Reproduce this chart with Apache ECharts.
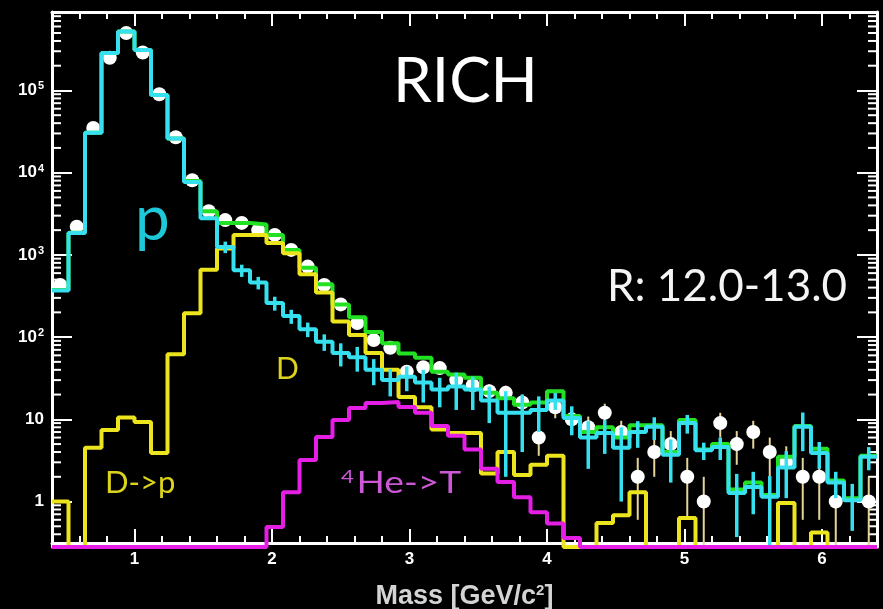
<!DOCTYPE html>
<html>
<head>
<meta charset="utf-8">
<script src="https://cdn.jsdelivr.net/npm/echarts@6/dist/echarts.min.js"></script>
<style>
  html, body { margin: 0; padding: 0; background: #000; }
  #chart { width: 883px; height: 609px; }
</style>
</head>
<body>
<div id="chart"></div>
<script>
// Mass histogram binning: 50 bins of 0.12 GeV/c^2 starting at 0.4
const BIN_START = 0.4;
const BIN_WIDTH = 0.12;

// Observed counts (white points) and their errors
const dataCounts = [
  430, 2200, 35000, 250000, 500000, 290000, 90000, 27000, 8100, 3400,
  2650, 2450, 2000, 1750, 1150, 720, 430, 250, 148, 92,
  74, 38, 43, 42, 30, 26, 22, 21, 16, 6,
  14, 10, 8, 12, 7, 2, 4, 5, 2, 1,
  9, 5, 7, 4, 3, 2, 2, 1, 0, 1
];
const dataErr = [
  0, 0, 0, 0, 0, 0, 0, 0, 0, 0,
  0, 0, 0, 0, 0, 0, 0, 16, 12, 10,
  9, 6, 6.5, 6.5, 5.5, 5, 4.7, 4.6, 4, 2.4,
  3.7, 3.2, 2.8, 3.5, 2.6, 1.4, 2, 2.2, 1.4, 1,
  3, 2.2, 2.6, 2, 1.7, 1.4, 1.4, 1, 0, 1
];

// Proton template (cyan) with its statistical errors
const protonMC = [
  370, 1850, 30500, 286000, 520000, 310000, 88000, 26000, 7700, 2800,
  1250, 650, 460, 260, 180, 125, 88, 64, 57, 40,
  30, 33, 28, 23, 25, 23, 17, 12, 12, 13,
  17, 10.4, 6, 6.8, 4.5, 7, 8.1, 3.7, 9, 4.2,
  4.6, 1.27, 1.5, 1.14, 2.6, 8.1, 3.9, 1.7, 1.04, 3.5
];
const protonErr = [
  0, 0, 0, 0, 0, 0, 0, 0, 0, 150,
  200, 110, 80, 50, 35, 25, 20, 20, 19, 14,
  11, 11, 12, 9, 12, 10, 8, 10, 8, 6,
  4, 4, 3.5, 3, 3.5, 2.5, 2.5, 2, 2.3, 1,
  1.4, 0.9, 0.8, 0.9, 1.5, 4, 1.4, 0.6, 0.6, 1.1
];

// Deuteron template (yellow), including the D->p tail at low mass
const deuteronMC = [
  1, 0, 4.5, 7.4, 10.5, 9.3, 3.9, 62, 195, 660,
  1200, 1750, 1750, 1400, 1050, 580, 350, 155, 106, 64,
  40, 18.7, 14, 7.5, 6.8, 6.8, 2.2, 4, 2.1, 2.8,
  3.6, 0, 0, 0.55, 0.68, 1.3, 0, 0, 0.63, 0,
  0, 0, 0, 0, 0.96, 0, 0.42, 0, 0, 0
];

// 4He -> T template (magenta)
const heliumToTriton = [
  0, 0, 0, 0, 0, 0, 0, 0, 0, 0,
  0, 0, 0, 0.49, 1.3, 3.2, 6.1, 9.8, 13.7, 15.8,
  16.3, 14.1, 12, 8.3, 6.3, 4.3, 2.5, 1.73, 1.13, 0.74,
  0.54, 0.36, 0, 0, 0, 0, 0, 0, 0, 0,
  0, 0, 0, 0, 0, 0, 0, 0, 0, 0
];

// Total fit (green)
const totalFit = [
  375, 1860, 30500, 286000, 520000, 310000, 88000, 26000, 7900, 3400,
  2450, 2450, 2350, 1750, 1150, 700, 440, 250, 175, 115,
  84, 63, 56, 38, 35, 32, 21, 18, 15, 16,
  22, 11, 7, 8, 6, 8.5, 8.5, 4, 9.8, 4.3,
  5, 1.4, 1.7, 1.2, 3.5, 8.3, 4.4, 1.8, 1.1, 3.6
];

const X_MIN = 0.4, X_MAX = 6.4;
const Y_MIN = 0.28, Y_MAX = 9e5;

const nBins = dataCounts.length;
const edges = Array.from({ length: nBins + 1 }, (_, i) => +(BIN_START + i * BIN_WIDTH).toFixed(2));
const centers = Array.from({ length: nBins }, (_, i) => +(BIN_START + (i + 0.5) * BIN_WIDTH).toFixed(2));
const atFloor = v => Math.max(v, Y_MIN);

// Histogram outline: one point per left bin edge plus the closing edge
function stepPoints(values) {
  const pts = values.map((v, i) => [edges[i], atFloor(v)]);
  pts.push([edges[nBins], atFloor(values[nBins - 1])]);
  return pts;
}
function errorBars(values, errs, keep) {
  const out = [];
  values.forEach((v, i) => {
    if (errs[i] > 0 && keep(v)) out.push([centers[i], atFloor(v - errs[i]), atFloor(v + errs[i])]);
  });
  return out;
}
function errorSeries(name, data, color, width, z) {
  return {
    name, type: 'custom', z, data,
    encode: { x: 0, y: [1, 2] },
    renderItem(params, api) {
      const lo = api.coord([api.value(0), api.value(1)]);
      const hi = api.coord([api.value(0), api.value(2)]);
      return { type: 'line', shape: { x1: lo[0], y1: lo[1], x2: hi[0], y2: hi[1] },
               style: { stroke: color, lineWidth: width } };
    }
  };
}
function histSeries(name, values, color, width, z) {
  return {
    name, type: 'line', step: 'end', z, clip: false,
    data: stepPoints(values), symbol: 'none',
    lineStyle: { color, width }, animation: false
  };
}

// Minor ticks of the logarithmic axis (2..9 x 10^k), drawn on both frame sides
const logMinorTicks = [];
for (let k = -1; k <= 5; k++) {
  for (let m = 2; m <= 9; m++) {
    const v = +(m * Math.pow(10, k)).toPrecision(3);
    if (v > Y_MIN && v < Y_MAX) logMinorTicks.push([X_MIN, v]);
  }
}

const frameColor = '#ffffff';
const labelFont = { color: '#ffffff', fontFamily: 'Liberation Sans', fontWeight: 'bold', fontSize: 17 };

const chart = echarts.init(document.getElementById('chart'));
chart.setOption({
  backgroundColor: '#000000',
  animation: false,
  grid: { left: 52, right: 6, top: 12, bottom: 62, containLabel: false, outerBoundsMode: 'none' },
  xAxis: [
    {
      type: 'value', position: 'bottom', min: X_MIN, max: X_MAX, offset: -4,
      axisLine: { show: true, lineStyle: { color: frameColor, width: 3 } },
      axisTick: { show: true, inside: true, length: 14, lineStyle: { color: frameColor, width: 2 } },
      minorTick: { show: true, splitNumber: 5, length: 7, lineStyle: { color: frameColor, width: 2 } },
      splitLine: { show: false },
      axisLabel: Object.assign({ margin: 8, showMinLabel: false, showMaxLabel: false }, labelFont),
      name: 'Mass [GeV/c{sup|2}]', nameLocation: 'middle', nameGap: 40,
      nameTextStyle: {
        color: '#d4d4d4', fontFamily: 'Liberation Sans', fontWeight: 'bold', fontSize: 27,
        rich: { sup: { color: '#d4d4d4', fontFamily: 'Liberation Sans', fontWeight: 'bold', fontSize: 15, verticalAlign: 'top', padding: [0, 0, 10, 0] } }
      }
    },
    {
      type: 'value', position: 'top', min: X_MIN, max: X_MAX,
      axisLine: { show: true, lineStyle: { color: frameColor, width: 3 } },
      axisTick: { show: true, inside: true, length: 14, lineStyle: { color: frameColor, width: 2 } },
      minorTick: { show: true, splitNumber: 5, length: 7, lineStyle: { color: frameColor, width: 2 } },
      splitLine: { show: false }, axisLabel: { show: false }
    }
  ],
  yAxis: [
    {
      type: 'log', logBase: 10, position: 'left', min: Y_MIN, max: Y_MAX,
      axisLine: { show: true, lineStyle: { color: frameColor, width: 3 } },
      axisTick: { show: true, inside: true, length: 20, lineStyle: { color: frameColor, width: 2 } },
      splitLine: { show: false },
      axisLabel: Object.assign({
        margin: 8, showMinLabel: false, showMaxLabel: false,
        formatter: v => {
          const e = Math.round(Math.log10(v));
          if (Math.abs(Math.log10(v) - e) > 1e-6) return '';
          if (e === 0) return '1';
          if (e === 1) return '10';
          return '10{sup|' + e + '}';
        },
        rich: { sup: { color: '#ffffff', fontFamily: 'Liberation Sans', fontWeight: 'bold', fontSize: 11, verticalAlign: 'top', padding: [0, 0, 8, 1] } }
      }, labelFont)
    },
    {
      type: 'log', logBase: 10, position: 'right', min: Y_MIN, max: Y_MAX,
      axisLine: { show: true, lineStyle: { color: frameColor, width: 3 } },
      axisTick: { show: true, inside: true, length: 20, lineStyle: { color: frameColor, width: 2 } },
      splitLine: { show: false }, axisLabel: { show: false }
    }
  ],
  graphic: [
    { type: 'text', left: 393, top: 51, z: 20,
      style: { text: 'RICH', fill: '#ffffff', font: '62px Lato' } },
    { type: 'text', left: 607, top: 265, z: 20,
      style: { text: 'R: 12.0-13.0', fill: '#f4f4f4', font: '44px Lato' } },
    { type: 'text', left: 135, top: 189, z: 20,
      style: { text: 'p', fill: '#1ec8d8', font: '62px Lato' } },
    { type: 'text', left: 276, top: 354, z: 20,
      style: { text: 'D', fill: '#dcd41c', font: '30px Lato' } },
    { type: 'text', left: 105, top: 467, z: 20,
      style: { text: 'D->p', fill: '#dcd41c', font: '31px Lato' } },
    { type: 'text', x: 341, y: 468, scaleX: 1.24, z: 20,
      style: { text: '{s|4}He->T', fill: '#cc58d6', font: '30px Lato',
               rich: { s: { fill: '#cc58d6', font: '18px Lato', verticalAlign: 'top', padding: [0, 2, 12, 0] } } } }
  ],
  series: [
    {
      name: 'minor ticks', type: 'custom', z: 1, silent: true, data: logMinorTicks,
      encode: { x: 0, y: 1 },
      renderItem(params, api) {
        const p = api.coord([X_MIN, api.value(1)]);
        const cs = params.coordSys;
        const st = { stroke: frameColor, lineWidth: 2 };
        return { type: 'group', children: [
          { type: 'line', shape: { x1: cs.x, y1: p[1], x2: cs.x + 9, y2: p[1] }, style: st },
          { type: 'line', shape: { x1: cs.x + cs.width, y1: p[1], x2: cs.x + cs.width - 9, y2: p[1] }, style: st }
        ] };
      }
    },
    errorSeries('data errors', errorBars(dataCounts, dataErr, v => v > 0), '#e2d49a', 2, 2),
    {
      name: 'Data', type: 'scatter', z: 2, symbol: 'circle', symbolSize: 14,
      data: dataCounts.map((v, i) => [centers[i], v]).filter(d => d[1] > 0),
      itemStyle: { color: '#ffffff', opacity: 1 }
    },
    histSeries('Total', totalFit, '#22e022', 4, 3),
    histSeries('D', deuteronMC, '#ece41c', 4, 4),
    errorSeries('p errors', errorBars(protonMC, protonErr, () => true), '#36e0ee', 3.5, 5),
    histSeries('p', protonMC, '#36e0ee', 4, 5),
    histSeries('4He->T', heliumToTriton, '#e41ee4', 4, 6)
  ]
});
</script>
</body>
</html>
